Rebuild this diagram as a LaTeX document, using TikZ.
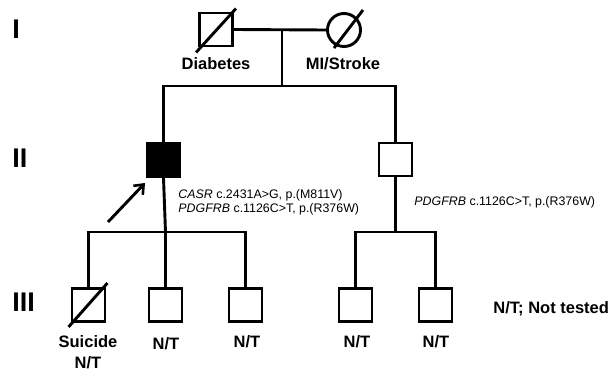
\documentclass[tikz,border=0pt]{standalone}
\usepackage{fontspec}
\setmainfont{Liberation Sans}
\usetikzlibrary{arrows.meta,calc}
\begin{document}
\begin{tikzpicture}[x=1pt,y=-1pt,
  line width=2.9pt,
  male/.style={draw,rectangle,minimum size=33pt,inner sep=0pt},
  female/.style={draw,circle,minimum size=33pt,inner sep=0pt},
  lbl/.style={font=\fontsize{16.5}{18}\selectfont\bfseries,inner sep=0pt},
  gen/.style={font=\fontsize{27}{30}\selectfont\bfseries,inner sep=0pt,anchor=west},
  gene/.style={font=\fontsize{12.4}{14}\selectfont,inner sep=0pt,anchor=west,align=left},
  conn/.style={line cap=rect}]
\useasboundingbox (0,0) rectangle (613,372);
% generation labels
\node[gen] (g1) at (11,29) {I};
\node[gen] (g2) at (11,158) {II};
\node[gen] (g3) at (11,302) {III};
% generation I
\node[male] (f) at (216,29.5) {};
\node[female] (m) at (344,30) {};
\draw ($(f.south west)+(-2,5)$) -- ($(f.north east)+(2,-3)$);
\draw ($(m.center)+(-10,18)$) -- ($(m.center)+(19,-20)$);
\coordinate (mc) at (282,30);
\coordinate (s1) at (282,86);
\draw (f.east) -- (m.west);
\draw (mc) -- (s1);
\node[lbl] (lf) at (216,64) {Diabetes};
\node[lbl] (lm) at (343,64) {MI/Stroke};
% generation II
\node[male,fill=black] (p) at (163.5,160) {};
\node[male] (b) at (395.5,159.5) {};
\coordinate (s1l) at (163.5,86);
\coordinate (s1r) at (395.5,86);
\draw[conn] (s1l) -- (s1r);
\draw (s1l) -- (p.north);
\draw (s1r) -- (b.north);
\coordinate (at) at (108,222);
\draw[-{Straight Barb[length=8pt,width=13pt,line width=2.6pt]}] (at) -- (145,183);
\node[gene] (gp) at (177,202) {\textit{CASR} c.2431A>G, p.(M811V)\\\textit{PDGFRB} c.1126C>T, p.(R376W)};
\node[gene] (gb) at (413,202) {\textit{PDGFRB} c.1126C>T, p.(R376W)};
% generation III
\node[male] (c1) at (88.5,305) {};
\node[male] (c2) at (165.5,305) {};
\node[male] (c3) at (245.5,305) {};
\node[male] (c4) at (355.5,305) {};
\node[male] (c5) at (435.5,305) {};
\draw ($(c1.south west)+(-2,4)$) -- ($(c1.north east)+(1,-4)$);
\coordinate (s2) at (165.5,232);
\coordinate (s3) at (395.5,232);
\draw (p.south) -- (s2);
\draw (b.south) -- (s3);
\draw[conn] (88.5,232) -- (245.5,232);
\draw[conn] (355.5,232) -- (435.5,232);
\draw (88.5,232) -- (c1.north);
\draw (s2) -- (c2.north);
\draw (245.5,232) -- (c3.north);
\draw (355.5,232) -- (c4.north);
\draw (435.5,232) -- (c5.north);
\node[lbl] (l1) at (88,342) {Suicide};
\node[lbl] (l1b) at (88,362.5) {N/T};
\node[lbl] (l2) at (166,344) {N/T};
\node[lbl] (l3) at (247,342) {N/T};
\node[lbl] (l4) at (357,342) {N/T};
\node[lbl] (l5) at (436,342) {N/T};
\node[lbl,anchor=west] (key) at (492,309) {N/T; Not tested};
\end{tikzpicture}
\end{document}
